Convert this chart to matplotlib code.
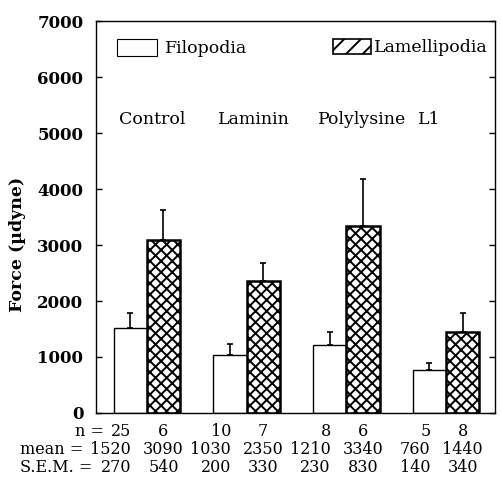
import numpy as np
import matplotlib
matplotlib.use("Agg")
import matplotlib.pyplot as plt
from matplotlib.patches import Patch

plt.rcParams["font.family"] = "DejaVu Serif"
plt.rcParams["hatch.linewidth"] = 1.4

# dati
substrati = ["Control", "Laminin", "Polylysine", "L1"]
filo_mean = [1520, 1030, 1210, 760]
lamel_mean = [3090, 2350, 3340, 1440]
filo_sem = [270, 200, 230, 140]
lamel_sem = [540, 330, 830, 340]
filo_n = [25, 10, 8, 5]
lamel_n = [6, 7, 6, 8]
y_ticks = [0, 1000, 2000, 3000, 4000, 5000, 6000, 7000]

x = np.arange(len(substrati))
w = 0.333

fig = plt.figure(figsize=(5.02, 4.78), dpi=100)
ax = fig.add_axes([0.191, 0.136, 0.795, 0.820])

ax.bar(x - w / 2, filo_mean, w, color="white", edgecolor="black", linewidth=1.0)
ax.bar(x + w / 2, lamel_mean, w, color="white", edgecolor="black",
       linewidth=1.8, hatch="xxx")
ax.errorbar(x - w / 2, filo_mean, yerr=[np.zeros(4), filo_sem], fmt="none",
            ecolor="black", elinewidth=1.2, capsize=2.5, capthick=1.2)
ax.errorbar(x + w / 2, lamel_mean, yerr=[np.zeros(4), lamel_sem], fmt="none",
            ecolor="black", elinewidth=1.2, capsize=2.5, capthick=1.2)

ax.set_xlim(-0.51, 3.49)
ax.set_ylim(0, 7000)
ax.set_yticks(y_ticks)
ax.set_yticklabels([str(t) for t in y_ticks], fontweight="bold", fontsize=12)
ax.set_xticks([])
ax.tick_params(axis="y", direction="in", length=4, width=1, right=True, pad=9)
for s in ax.spines.values():
    s.set_linewidth(1.0)

ax.set_ylabel("Force (\u00b5dyne)", fontweight="bold", fontsize=12.5)
ax.yaxis.set_label_coords(-0.175, 0.43)

# nomi dei substrati
for i, nome in enumerate(substrati):
    ax.text(x[i] - w + 0.05, 5250, nome, fontsize=12.5, ha="left", va="center")

# legenda
leg1 = ax.legend(handles=[Patch(facecolor="white", edgecolor="black", linewidth=0.8)],
                 labels=["Filopodia"], loc="upper left", bbox_to_anchor=(0.015, 0.995),
                 frameon=False, fontsize=12.5, handlelength=2.3, handleheight=1.2,
                 handletextpad=0.45)
ax.add_artist(leg1)
ax.legend(handles=[Patch(facecolor="white", edgecolor="black", linewidth=1.2, hatch="//")],
          labels=["Lamellipodia"], loc="upper left", bbox_to_anchor=(0.555, 0.995),
          frameon=False, fontsize=12.5, handlelength=2.2, handleheight=1.0,
          handletextpad=0.15)

# tabella sotto il grafico
tr = ax.get_xaxis_transform()
righe = [("n =", filo_n, lamel_n, -0.046, -0.43),
         ("mean =", filo_mean, lamel_mean, -0.092, -0.635),
         ("S.E.M. =", filo_sem, lamel_sem, -0.138, -0.55)]
for etichetta, fv, lv, yy, xl in righe:
    ax.text(xl, yy, etichetta, transform=tr, ha="right", va="center",
            fontsize=11.5, clip_on=False)
    for i in range(len(substrati)):
        ax.text(x[i] - w / 2 + 0.01, yy, str(fv[i]), transform=tr, ha="right",
                va="center", fontsize=11.5, clip_on=False)
        ax.text(x[i] + w / 2, yy, str(lv[i]), transform=tr, ha="center",
                va="center", fontsize=11.5, clip_on=False)

fig.savefig("out.png", dpi=100)
